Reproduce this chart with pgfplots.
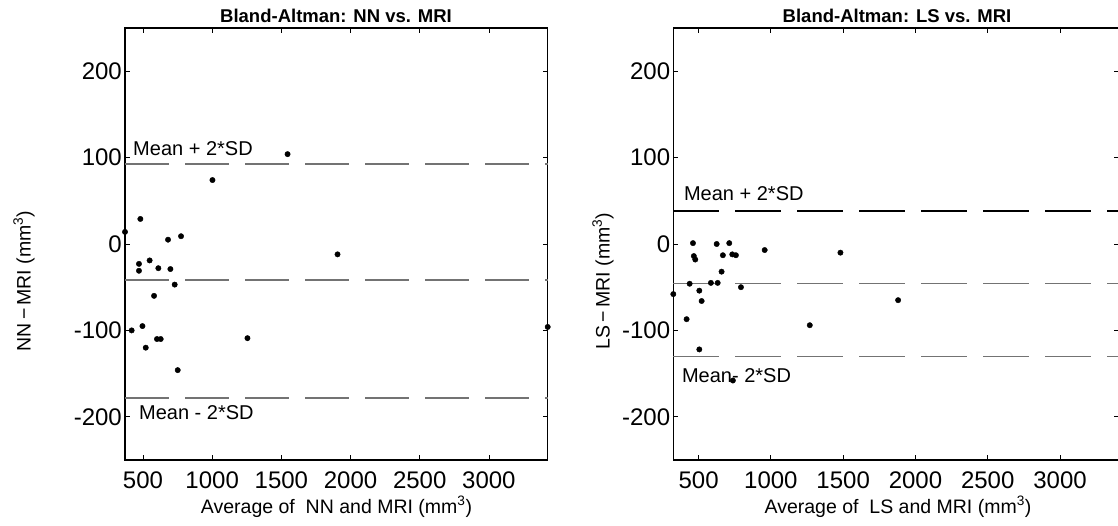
\documentclass[border=0pt]{standalone}
\usepackage{fontspec}
\setmainfont{Liberation Sans}
\usepackage{pgfplots}
\pgfplotsset{compat=1.18}
\definecolor{lgray}{RGB}{115,115,115}
\begin{document}
\begin{tikzpicture}[x=1pt,y=1pt]
\useasboundingbox (0pt,0pt) rectangle (1118pt,525pt);
\pgfplotsset{
  ba/.style={
    scale only axis, height=432pt,
    ymin=-250, ymax=250,
    ytick={-200,-100,0,100,200},
    yticklabels={-200,-100,0,100,200},
    xtick={500,1000,1500,2000,2500,3000},
    xticklabels={500,1000,1500,2000,2500,3000},
    tick align=inside, major tick length=5pt,
    axis line style={line width=1.1pt},
    every tick/.style={black, line width=0.8pt},
    ticklabel style={font=\fontsize{24}{25}\selectfont, inner sep=1pt},
    xticklabel style={yshift=-10.5pt},
    yticklabel style={xshift=-2pt},
    clip=false,
    anchor=south west,
  },
  dots/.style={only marks, mark=*, mark size=2.7pt, black},
}
% ---------- left ----------
\begin{axis}[ba, at={(125pt,65pt)}, width=422.7pt, xmin=370, xmax=3425]
\addplot[lgray, line width=1.8pt, dash pattern=on 44pt off 16pt] coordinates {(370,93) (3425,93)};
\addplot[lgray, line width=1.8pt, dash pattern=on 44pt off 16pt] coordinates {(370,-42) (3425,-42)};
\addplot[lgray, line width=1.8pt, dash pattern=on 44pt off 16pt] coordinates {(370,-178) (3425,-178)};
\addplot[dots] table {
x y
370 14
481 29
681 5
775 9
471 -23
548 -19
471 -31
611 -28
698 -29
729 -47
580 -60
418 -100
496 -95
601 -110
628 -110
520 -120
751 -146
1255 -109
1002 74
1545 104
1906 -12
3425 -96
};
\node[anchor=base west, inner sep=0pt, font=\fontsize{20}{22}\selectfont] at (axis cs:428,103) {Mean + 2*SD};
\node[anchor=base west, inner sep=0pt, font=\fontsize{20}{22}\selectfont] at (axis cs:471,-203) {Mean - 2*SD};
\end{axis}
% ---------- right ----------
\begin{axis}[ba, at={(673.3pt,65pt)}, width=445.7pt, xmin=325, xmax=3408]
\addplot[black, line width=1.4pt, dash pattern=on 46pt off 16pt] coordinates {(325,38) (3408,38)};
\addplot[lgray, line width=1.2pt, dash pattern=on 46pt off 16pt] coordinates {(325,-46) (3408,-46)};
\addplot[lgray, line width=1.2pt, dash pattern=on 46pt off 16pt] coordinates {(325,-130) (3408,-130)};
\addplot[dots] table {
x y
325 -58
461 1
467 -14
477 -18
625 0
712 1
668 -13
733 -12
758 -13
957 -7
1481 -10
659 -32
438 -46
585 -45
632 -45
505 -54
793 -50
521 -66
417 -87
1269 -94
1880 -65
505 -122
737 -158
};
\node[anchor=base west, inner sep=0pt, font=\fontsize{20}{22}\selectfont] at (axis cs:398,50) {Mean + 2*SD};
\node[anchor=base west, inner sep=0pt, font=\fontsize{20}{22}\selectfont] at (axis cs:384,-160) {Mean- 2*SD};
\end{axis}
% ---------- titles and labels ----------
\node[font=\bfseries\fontsize{18.5}{20}\selectfont] at (336pt,509pt) {Bland-Altman: NN vs. MRI};
\node[font=\bfseries\fontsize{18.5}{20}\selectfont] at (897pt,509pt) {Bland-Altman: LS vs. MRI};
\node[font=\fontsize{19.5}{21}\selectfont] at (336.5pt,18pt) {Average of\ \ NN and MRI (mm\textsuperscript{3})};
\node[font=\fontsize{19.5}{21}\selectfont] at (898pt,18pt) {Average of\ \ LS and MRI (mm\textsuperscript{3})};
\node[rotate=90, font=\fontsize{19.5}{21}\selectfont] at (24pt,244pt) {NN\,−\,MRI (mm\textsuperscript{3})};
\node[rotate=90, font=\fontsize{19.5}{21}\selectfont] at (603pt,244pt) {LS\,−\,MRI (mm\textsuperscript{3})};
\end{tikzpicture}
\end{document}
